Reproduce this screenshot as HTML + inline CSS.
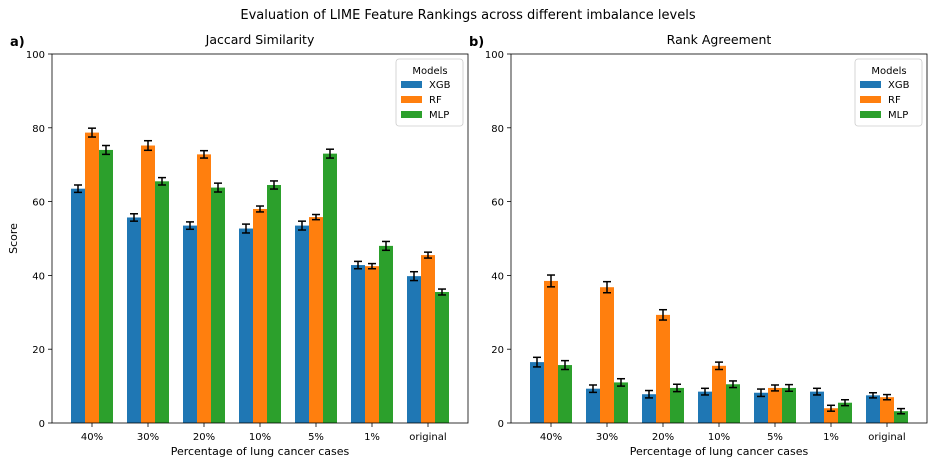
<!DOCTYPE html>
<html><head><meta charset="utf-8"><style>
body{margin:0;background:#fff}
svg{display:block;font-family:"DejaVu Sans","Liberation Sans",sans-serif}
</style></head><body>
<svg id="fig" width="936" height="464" viewBox="0 0 936 464">
<text x="468" y="19" font-size="13" text-anchor="middle">Evaluation of LIME Feature Rankings across different imbalance levels</text>
</svg>
<script>
const categories=["40%","30%","20%","10%","5%","1%","original"];
const models=["XGB","RF","MLP"];
const colors=["#1f77b4","#ff7f0e","#2ca02c"];
const jacXGB=[63.5,55.7,53.5,52.7,53.5,42.8,39.8];
const jacRF=[78.7,75.2,72.8,58,55.8,42.5,45.5];
const jacMLP=[74,65.5,63.8,64.5,73,48,35.5];
const jacErrXGB=[1.0,1.0,1.0,1.2,1.2,1.0,1.2];
const jacErrRF=[1.2,1.3,1.0,0.8,0.7,0.7,0.8];
const jacErrMLP=[1.2,1.0,1.2,1.1,1.2,1.2,0.8];
const rankXGB=[16.5,9.3,7.8,8.5,8.2,8.5,7.5];
const rankRF=[38.5,36.8,29.3,15.5,9.5,4.0,7.0];
const rankMLP=[15.7,11,9.5,10.5,9.5,5.5,3.2];
const rankErrXGB=[1.3,1.0,1.0,0.9,1.0,0.9,0.7];
const rankErrRF=[1.6,1.5,1.4,1.0,0.8,0.8,0.7];
const rankErrMLP=[1.2,1.0,1.0,0.9,0.9,0.8,0.7];
const yTicks=[0,20,40,60,80,100];
const NS="http://www.w3.org/2000/svg";
const fig=document.getElementById('fig');
function mk(tag,attrs,parent,text){const e=document.createElementNS(NS,tag);for(const k in attrs)e.setAttribute(k,attrs[k]);if(text!==undefined)e.textContent=text;(parent||fig).appendChild(e);return e;}
function panel(left,label,title,series,errs,showYLabel,pname){
  const top=54,bottom=423,w=416;
  const y=v=>bottom-(v/100)*(bottom-top);
  const xc=i=>left+40+i*56;
  const g=mk('g',{});
  
  
  const tl=mk('text',{x:left+w/2,y:44,'font-size':12.5,'text-anchor':'middle'},g,title);
  
  
  const lb=mk('text',{x:left-42,y:46,'font-size':13,'font-weight':'bold'},g,label);
  
  
  yTicks.forEach(t=>{
    mk('line',{x1:left-4,x2:left,y1:y(t),y2:y(t),stroke:'#000','stroke-width':0.8},g);
    const tt=mk('text',{x:left-7,y:y(t)+4,'font-size':10,'text-anchor':'end'},g,String(t));
    
    
  });
  series.forEach((s,m)=>{
    s.forEach((v,i)=>{
      const cx=xc(i)+(m-1)*14;
      const r=mk('rect',{x:cx-7,y:y(v),width:14,height:bottom-y(v),fill:colors[m]},g);
      
      
      const e=errs[m][i];
      mk('line',{x1:cx,x2:cx,y1:y(v+e),y2:y(v-e),stroke:'#000','stroke-width':1.5},g);
      mk('line',{x1:cx-4,x2:cx+4,y1:y(v+e),y2:y(v+e),stroke:'#000','stroke-width':1.5},g);
      mk('line',{x1:cx-4,x2:cx+4,y1:y(v-e),y2:y(v-e),stroke:'#000','stroke-width':1.5},g);
    });
  });
  categories.forEach((c,i)=>{
    mk('line',{x1:xc(i),x2:xc(i),y1:bottom,y2:bottom+4,stroke:'#000','stroke-width':0.8},g);
    const t=mk('text',{x:xc(i),y:bottom+17,'font-size':10,'text-anchor':'middle'},g,c);
    
    
  });
  const ax=mk('rect',{x:left,y:top,width:w,height:bottom-top,fill:'none',stroke:'#000','stroke-width':0.8},g);
  
  
  const xl=mk('text',{x:left+w/2,y:bottom+32,'font-size':11,'text-anchor':'middle'},g,'Percentage of lung cancer cases');
  
  
  if(showYLabel){
    const yl=mk('text',{x:0,y:0,'font-size':11,'text-anchor':'middle',transform:`translate(${left-35},${(top+bottom)/2}) rotate(-90)`},g,'Score');
    
    
  }
  const lx=left+w-72, ly=top+5;
  const lg=mk('g',{},g);
  
  
  mk('rect',{x:lx,y:ly,width:67,height:67,rx:3,fill:'#fff',stroke:'#ccc','stroke-width':0.8},lg);
  mk('text',{x:lx+34,y:ly+15,'font-size':10,'text-anchor':'middle'},lg,'Models');
  models.forEach((n,m)=>{
    const yy=ly+22+m*15;
    mk('rect',{x:lx+5,y:yy,width:21,height:7,fill:colors[m]},lg);
    const t=mk('text',{x:lx+33,y:yy+7,'font-size':10,'text-anchor':'start'},lg,n);
    
    
  });
}
panel(52,'a)','Jaccard Similarity',[jacXGB,jacRF,jacMLP],[jacErrXGB,jacErrRF,jacErrMLP],true,'panel-jaccard');
panel(511,'b)','Rank Agreement',[rankXGB,rankRF,rankMLP],[rankErrXGB,rankErrRF,rankErrMLP],false,'panel-rank');
</script>
</body></html>
